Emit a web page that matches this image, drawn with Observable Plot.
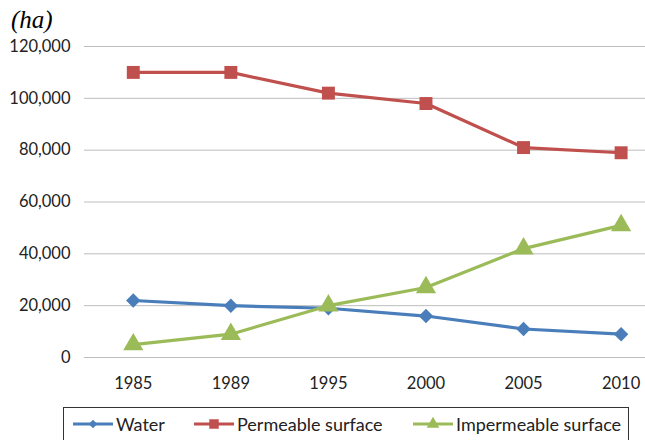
<!DOCTYPE html>
<html>
<head>
<meta charset="utf-8">
<script src="https://cdn.jsdelivr.net/npm/d3@7"></script>
<script src="https://cdn.jsdelivr.net/npm/@observablehq/plot@0.6"></script>
<style>
  html, body { margin: 0; padding: 0; background: #fff; }
  #wrap { position: relative; width: 645px; height: 440px; overflow: hidden; font-family: Lato, "Noto Sans", sans-serif; }
  #title { position: absolute; left: 11px; top: 5px; font-family: "Liberation Serif", serif; font-style: italic; font-size: 25px; line-height: 30px; color: #000; }
  #chart { position: absolute; left: 0; top: 0; }
  #legend { position: absolute; left: 63px; top: 407px; width: 566px; height: 40px; border: 1px solid #333; box-sizing: border-box; font-size: 18px; color: #222; }
  .item { position: absolute; top: 5px; display: flex; align-items: center; height: 22px; }
  .item svg { margin-right: 2px; }
</style>
</head>
<body>
<div id="wrap">
  <div id="chart"></div>
  <div id="title">(ha)</div>
  <div id="legend"></div>
</div>
<script>
const years = ["1985", "1989", "1995", "2000", "2005", "2010"];
const water = [22000, 20000, 19000, 16000, 11000, 9000];
const permeable = [110000, 110000, 102000, 98000, 81000, 79000];
const impermeable = [5000, 9000, 20000, 27000, 42000, 51000];
const yTicks = [0, 20000, 40000, 60000, 80000, 100000, 120000];

const series = [
  {name: "Water", values: water, color: "#4A7EBB", symbol: "diamond2", r: 6.5, lsize: 45},
  {name: "Permeable surface", values: permeable, color: "#C0504D", symbol: "square", r: 7.3, lsize: 90},
  {name: "Impermeable surface", values: impermeable, color: "#9BBB59", symbol: "triangle", r: 7.5, lsize: 70}
];
const legendLeft = [8, 129, 348];

const marks = [
  Plot.ruleY(yTicks, {stroke: "#bdbdbd", strokeWidth: 1})
];
for (const s of series) {
  const data = years.map((y, i) => ({i, year: y, value: s.values[i]}));
  marks.push(Plot.line(data, {x: "i", y: "value", stroke: s.color, strokeWidth: 3.2}));
  marks.push(Plot.dot(data, {x: "i", y: "value", fill: s.color, symbol: s.symbol, r: s.r, stroke: "none"}));
}
marks.push(Plot.axisX({ticks: d3.range(years.length), tickFormat: i => years[i], tickSize: 0, tickPadding: 20, fontSize: 16.5, fill: "#222", label: null}));
marks.push(Plot.axisY({ticks: yTicks, tickFormat: d3.format(","), tickSize: 0, tickPadding: 14, fontSize: 16.5, fill: "#222", label: null}));

const chart = Plot.plot({
  width: 645,
  height: 402,
  marginLeft: 84,
  marginRight: 0,
  marginTop: 46,
  marginBottom: 45,
  style: {fontFamily: "Lato, 'Noto Sans', sans-serif", background: "#fff", overflow: "visible"},
  x: {type: "linear", domain: [-0.5, 5.25], axis: null},
  y: {domain: [0, 120000], axis: null},
  marks
});
document.getElementById("chart").appendChild(chart);

const legend = document.getElementById("legend");
series.forEach((s, k) => {
  const item = document.createElement("div");
  item.className = "item";
  item.style.left = legendLeft[k] + "px";
  const sym = d3.create("svg").attr("width", 42).attr("height", 18);
  sym.append("line").attr("x1", 1).attr("x2", 41).attr("y1", 9).attr("y2", 9).attr("stroke", s.color).attr("stroke-width", 3);
  const symType = {diamond2: d3.symbolDiamond2, square: d3.symbolSquare, triangle: d3.symbolTriangle}[s.symbol];
  sym.append("path").attr("transform", "translate(21,9)").attr("d", d3.symbol(symType, s.lsize)()).attr("fill", s.color);
  item.appendChild(sym.node());
  const t = document.createElement("span");
  t.textContent = s.name;
  item.appendChild(t);
  legend.appendChild(item);
});
</script>
</body>
</html>
